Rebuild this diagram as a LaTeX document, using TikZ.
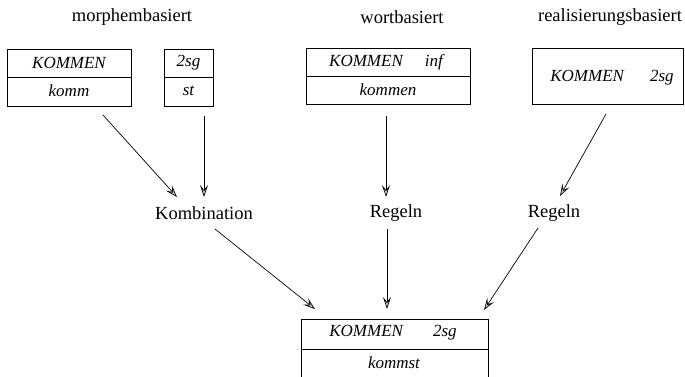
\documentclass[tikz,border=0pt]{standalone}
\usepackage{fontspec}
\setmainfont{Liberation Serif}
\usetikzlibrary{arrows.meta}
\begin{document}
\begin{tikzpicture}[x=1pt,y=-1pt,
  lbl/.style={inner sep=0pt,font=\fontsize{18.5}{20}\selectfont},
  it/.style={inner sep=0pt,font=\fontsize{17}{19}\selectfont\itshape},
  boxshape/.style={draw,line width=0.7pt,inner sep=0pt},
  conn/.style={line width=0.7pt,-{Stealth[length=12pt,width=8pt,inset=5pt,fill=gray!40]}}]
\useasboundingbox (0,0) rectangle (685,376);
% titles
\node[lbl] (t1) at (132,17) {morphembasiert};
\node[lbl] (t2) at (402,17) {wortbasiert};
\node[lbl] (t3) at (610,17) {realisierungsbasiert};
% box 1
\node[boxshape,minimum width=124pt,minimum height=57pt] (b1) at (69,77.5) {};
\draw[line width=0.7pt] (7,77) -- (131,77);
\node[it] (b1t) at (69,63) {KOMMEN};
\node[it] (b1b) at (69,91) {komm};
% box 2
\node[boxshape,minimum width=49pt,minimum height=57pt] (b2) at (188.5,77.5) {};
\draw[line width=0.7pt] (164,77) -- (213,77);
\node[it] (b2t) at (188.5,63) {2sg};
\node[it] (b2b) at (188.5,91) {st};
% box 3
\node[boxshape,minimum width=164pt,minimum height=56pt] (b3) at (388,76) {};
\draw[line width=0.7pt] (306,76) -- (470,76);
\node[it] (b3t) at (386,62) {KOMMEN\hspace{22pt}inf};
\node[it] (b3b) at (388,90) {kommen};
% box 4
\node[boxshape,minimum width=151pt,minimum height=56pt] (b4) at (607.5,76) {};
\node[it] (b4t) at (612,78) {KOMMEN\hspace{26pt}2sg};
% middle labels
\node[lbl] (k) at (204,213) {Kombination};
\node[lbl] (r1) at (396,213) {Regeln};
\node[lbl] (r2) at (554,213) {Regeln};
% bottom box
\node[boxshape,minimum width=187pt,minimum height=60pt] (b5) at (394.5,349) {};
\draw[line width=0.7pt] (301,349) -- (488,349);
\node[it] (b5t) at (393,333) {KOMMEN\hspace{30pt}2sg};
\node[it] (b5b) at (394,363) {kommst};
% connector end points
\coordinate (a1s) at (103,115); \coordinate (a1e) at (177,197);
\coordinate (a2s) at (204,116); \coordinate (a2e) at (204,197);
\coordinate (a3s) at (386,116); \coordinate (a3e) at (386,197);
\coordinate (a4s) at (606,114); \coordinate (a4e) at (560,196);
\coordinate (a5s) at (215,229); \coordinate (a5e) at (315,309);
\coordinate (a6s) at (387,229); \coordinate (a6e) at (387,309);
\coordinate (a7s) at (538,228); \coordinate (a7e) at (484,310);
\draw[conn] (a1s) -- (a1e);
\draw[conn] (a2s) -- (a2e);
\draw[conn] (a3s) -- (a3e);
\draw[conn] (a4s) -- (a4e);
\draw[conn] (a5s) -- (a5e);
\draw[conn] (a6s) -- (a6e);
\draw[conn] (a7s) -- (a7e);
\end{tikzpicture}
\end{document}
